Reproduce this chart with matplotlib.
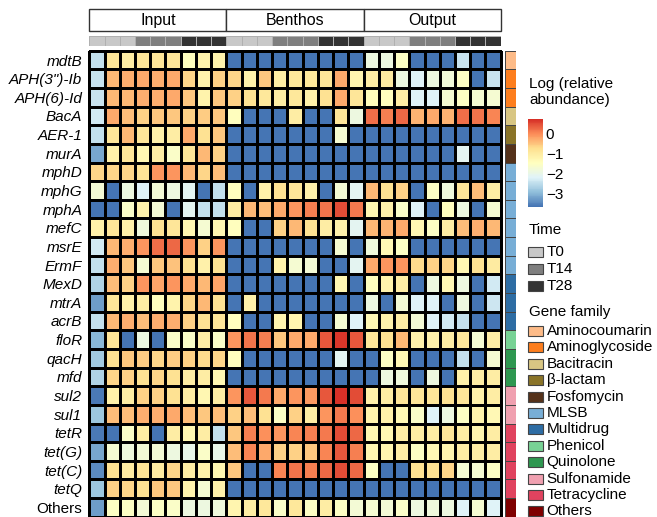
import numpy as np
import matplotlib.pyplot as plt
from matplotlib.colors import LinearSegmentedColormap, ListedColormap
from matplotlib.patches import Rectangle

plt.rcParams['font.family'] = ['Liberation Sans', 'DejaVu Sans']

B = -3.65  # menor valor (gene não detectado)

genes = ['mdtB', 'APH(3")-Ib', 'APH(6)-Id', 'BacA', 'AER-1', 'murA', 'mphD', 'mphG',
         'mphA', 'mefC', 'msrE', 'ErmF', 'MexD', 'mtrA', 'acrB', 'floR', 'qacH', 'mfd',
         'sul2', 'sul1', 'tetR', 'tet(G)', 'tet(C)', 'tetQ', 'Others']
familia_gene = ['Aminocoumarin', 'Aminoglycoside', 'Aminoglycoside', 'Bacitracin', 'β-lactam',
                'Fosfomycin', 'MLSB', 'MLSB', 'MLSB', 'MLSB', 'MLSB', 'MLSB',
                'Multidrug', 'Multidrug', 'Multidrug', 'Phenicol', 'Quinolone', 'Quinolone',
                'Sulfonamide', 'Sulfonamide', 'Tetracycline', 'Tetracycline', 'Tetracycline',
                'Tetracycline', 'Others']
grupos = ['Input', 'Benthos', 'Output']
tempos_nomes = ['T0', 'T14', 'T28']
tempos = ['T0', 'T0', 'T0', 'T14', 'T14', 'T14', 'T28', 'T28', 'T28'] * 3
cores_tempo = ['#c8c8c8', '#7f7f7f', '#333333']

familias = ['Aminocoumarin', 'Aminoglycoside', 'Bacitracin', 'β-lactam', 'Fosfomycin', 'MLSB',
            'Multidrug', 'Phenicol', 'Quinolone', 'Sulfonamide', 'Tetracycline', 'Others']
cores_familia = ['#fdbb88', '#fd7e1e', '#d8c683', '#8a7428', '#55321a', '#78aed6',
                 '#2e6da4', '#78d295', '#2e9750', '#f0a0b0', '#e0435f', '#7f0000']

# log da abundância relativa (linhas = genes, colunas = amostras)
input_log = [
    [-2.45, -0.87, -1.02, -0.87, -0.87, -0.87, -1.45, -1.16, -1.16],
    [-2.4, -0.35, -0.3, -0.25, -0.3, -0.25, -0.65, -1.16, -0.6],
    [-2.4, -0.35, -0.35, -0.3, -0.3, -0.25, -0.5, -1.16, -0.5],
    [-2.3, -0.25, -0.43, -0.6, -0.5, -0.5, -0.6, -0.55, -0.5],
    [-2.45, -0.87, -0.35, -0.87, -1.1, -1.02, -0.25, -0.78, -0.5],
    [-3.15, -1.1, -0.87, -1.25, -1.02, -1.55, -0.87, -0.35, -0.6],
    [-0.62, -0.65, -0.65, -0.8, -0.08, -0.08, -0.35, -0.65, -0.43],
    [-1.72, B, -1.85, -2.18, -1.72, -1.85, -2.07, B, -2.45],
    [B, B, -1.55, -1.16, -1.72, B, -2.07, -2.45, -2.45],
    [-1.12, -0.87, -1.12, -1.82, -0.75, -0.87, -1.27, -1.68, -1.27],
    [-2.3, -0.35, -0.3, -0.08, 0.24, 0.28, -0.08, -0.6, -0.05],
    [-2.45, -0.28, -0.5, -1.7, -0.5, -0.45, -0.75, -1.12, -0.75],
    [-2.62, -0.43, -0.6, -0.08, -0.2, -0.08, -0.25, -0.35, -0.2],
    [-3.25, -0.87, -1.12, -1.02, -1.45, -1.16, -0.65, -0.35, -0.75],
    [-2.45, -0.35, -0.28, -0.43, -0.28, -0.28, -0.6, -0.75, -0.87],
    [-2.98, -0.87, B, -1.85, B, -1.55, -1.55, -1.02, -1.55],
    [-2.75, -0.75, -0.5, -0.55, -0.65, -0.55, -0.6, -0.7, -0.65],
    [-2.62, -0.65, -0.6, -0.75, -0.65, -0.75, -1.02, -1.05, -1.27],
    [-3.6, -1.12, -1.02, -0.6, -0.6, -0.75, -1.02, -1.27, -1.02],
    [-2.8, -0.43, -0.43, -0.28, -0.28, -0.25, -0.43, -0.5, -0.43],
    [-3.6, B, -1.55, -1.02, B, -1.02, -1.27, -1.05, -2.45],
    [-3.15, -1.68, -1.82, -1.72, -1.72, -1.85, -2.02, -1.55, -2.02],
    [-3.4, -0.75, -0.98, -0.8, -0.98, -0.65, -1.02, -1.12, -1.27],
    [-2.8, -0.6, -0.65, -0.75, -0.5, -0.5, -1.16, -1.68, -1.12],
    [-3.25, -1.5, -1.5, -1.72, -1.5, -1.55, -1.85, -1.85, -1.82],
]
benthos_log = [
    [B, B, B, B, B, B, B, B, B],
    [-0.65, -1.1, -0.5, -1.02, -0.9, -0.9, -0.87, -0.25, -1.22],
    [-0.6, -0.75, -0.9, -1.02, -0.9, -1.1, -0.75, -0.25, -0.87],
    [-1.42, B, B, B, -1.02, B, B, -0.87, -1.85],
    [B, B, B, B, B, B, B, -1.7, B],
    [B, B, B, B, B, B, B, B, B],
    [B, B, B, B, B, B, B, B, B],
    [-1.45, B, -1.12, -0.75, -0.87, -1.12, B, -1.72, -2.07],
    [-0.98, -0.35, -0.43, -0.25, -0.08, 0.13, 0.2, 0.5, 0.17],
    [-1.45, B, B, -0.6, -0.35, -0.75, -1.02, -1.12, -2.07],
    [B, B, B, B, B, B, B, -1.68, B],
    [B, B, B, -1.16, -1.7, -1.72, B, B, -2.07],
    [B, B, B, B, B, B, B, -1.27, B],
    [B, -1.12, B, B, B, B, B, B, B],
    [-1.45, B, B, -1.22, -1.22, B, B, -1.7, -2.18],
    [-0.08, 0.2, 0.13, -0.5, -0.25, -0.25, 0.42, 0.68, 0.42],
    [-1.45, B, B, B, B, B, B, -2.07, B],
    [B, B, B, B, B, B, B, B, B],
    [-0.08, 0.42, 0.17, -0.25, -0.08, -0.1, 0.42, 0.75, 0.5],
    [-0.6, -0.43, -0.75, -1.5, -0.6, -1.02, -0.08, 0.17, 0.0],
    [-0.5, 0.13, 0.0, -0.05, 0.05, 0.13, 0.17, 0.53, 0.31],
    [-0.43, 0.05, -0.25, -0.6, -0.6, -0.5, 0.05, 0.42, 0.13],
    [-0.5, B, B, 0.05, 0.2, 0.13, 0.28, 0.53, 0.31],
    [B, B, B, B, B, B, B, B, B],
    [-1.22, -1.02, -0.9, -1.55, -0.9, -1.5, -1.05, -1.5, -1.72],
]
output_log = [
    [-1.85, -1.85, -1.5, B, B, B, -2.4, B, B],
    [-1.05, -1.0, -1.85, -2.18, -1.85, -1.8, -1.52, B, -2.4],
    [-1.4, -1.45, -1.05, -2.18, -2.18, -1.7, -1.52, -1.7, -1.68],
    [0.24, 0.13, 0.28, -0.33, -0.25, -0.33, 0.24, 0.2, 0.05],
    [B, B, B, B, B, B, B, B, B],
    [B, B, B, B, B, B, -2.07, B, B],
    [B, B, B, B, B, B, B, B, B],
    [-0.35, -0.75, -0.6, B, -1.52, -1.82, -0.87, -0.43, -1.02],
    [-1.27, -1.12, -1.55, -2.18, B, -1.45, -1.85, B, -1.68],
    [-0.35, -0.33, -0.25, -1.27, -1.5, -1.02, -0.43, -0.28, -0.35],
    [-1.82, -1.3, -1.52, B, B, B, B, B, B],
    [-0.25, -0.08, -0.05, -0.7, -0.6, -0.65, -1.27, -0.75, -0.98],
    [-1.42, -1.16, -1.05, B, -1.85, -1.3, -1.85, B, -2.3],
    [-1.85, B, -1.72, -2.18, -2.18, B, -1.85, B, -2.35],
    [-1.3, -1.16, -1.02, -1.72, -2.18, -2.3, -2.42, B, B],
    [-0.87, -0.75, -0.35, -1.12, -1.12, -1.02, -0.9, -1.7, -1.02],
    [B, -1.52, -1.3, B, B, B, -2.45, B, -1.68],
    [B, -1.85, -1.82, B, -1.85, B, -1.12, -1.02, -1.02],
    [-1.12, -1.02, -0.87, -0.87, -0.87, -0.75, -0.87, -1.12, -1.02],
    [-1.16, -1.12, -1.3, -1.55, -2.18, -1.85, -1.5, -1.16, -1.3],
    [-1.27, -1.27, -1.02, -1.02, -1.05, -0.87, -1.02, -1.22, -1.02],
    [-1.27, -1.22, -1.02, -1.5, -1.3, -1.22, -1.02, -1.05, -1.02],
    [-1.5, B, B, -0.75, -0.75, -0.65, -1.68, -1.68, -1.5],
    [B, B, B, B, B, B, B, B, B],
    [-1.68, -1.72, -1.55, -1.85, -1.82, -1.85, -2.18, -1.68, -2.18],
]

dados = np.hstack([np.array(input_log), np.array(benthos_log), np.array(output_log)])
n_lin, n_col = dados.shape

# paleta padrão do pheatmap (RdYlBu invertida, 7 cores)
cmap = LinearSegmentedColormap.from_list('pheat', ['#4575b4', '#91bfdb', '#e0f3f8', '#ffffbf',
                                                   '#fee090', '#fc8d59', '#d73027'], N=100)
vmin, vmax = -3.65, 0.75

W, H = 657, 517
fig = plt.figure(figsize=(W / 100, H / 100), dpi=100)


def eixo(x0, y0, x1, y1):
    return fig.add_axes([x0 / W, 1 - y1 / H, (x1 - x0) / W, (y1 - y0) / H])


# 1. Heatmap principal
ax = eixo(89.3, 50.7, 500.7, 516.7)
malha = ax.pcolormesh(dados, cmap=cmap, vmin=vmin, vmax=vmax, edgecolors='black', linewidth=0.8)
malha.set_clip_on(False)
ax.set_xlim(0, n_col)
ax.set_ylim(n_lin, 0)
ax.set_xticks([])
ax.set_yticks(np.arange(n_lin) + 0.5)
ax.set_yticklabels(genes, fontsize=11)
for lbl in ax.get_yticklabels():
    if lbl.get_text() != 'Others':
        lbl.set_fontstyle('italic')
ax.tick_params(length=0, pad=5)
for s in ax.spines.values():
    s.set_visible(False)

# 2. Cabeçalho dos grupos
ax_g = eixo(89.3, 9.3, 500.7, 31)
ax_g.set_xlim(0, n_col)
ax_g.set_ylim(0, 1)
for i, g in enumerate(grupos):
    ax_g.add_patch(Rectangle((i * 9, 0), 9, 1, facecolor='white', edgecolor='#333333',
                             linewidth=1, clip_on=False))
    ax_g.text(i * 9 + 4.5, 0.5, g, ha='center', va='center', fontsize=11.5)
ax_g.axis('off')

# 3. Barra de tempo
ax_t = eixo(89.3, 35.7, 500.7, 46)
cod_tempo = np.array([[tempos_nomes.index(t) for t in tempos]])
ax_t.pcolormesh(cod_tempo, cmap=ListedColormap(cores_tempo), vmin=-0.5, vmax=2.5,
                edgecolors='#b0b0b0', linewidth=0.5)
ax_t.axis('off')

# 4. Família dos genes
ax_f = eixo(504.7, 50.7, 515.7, 516.7)
cod_fam = np.array([[familias.index(f)] for f in familia_gene])
ax_f.pcolormesh(cod_fam, cmap=ListedColormap(cores_familia), vmin=-0.5, vmax=len(familias) - 0.5,
                edgecolors='#444444', linewidth=0.5)
ax_f.set_ylim(n_lin, 0)
ax_f.axis('off')

# 5. Barra de cores
cax = eixo(528, 119, 543, 207)
cb = fig.colorbar(malha, cax=cax, ticks=[0, -1, -2, -3])
cb.outline.set_visible(False)
cax.tick_params(length=0, labelsize=11, pad=2)
fig.text(529 / W, 1 - 92 / H, 'Log (relative\nabundance)', fontsize=11, va='center',
         linespacing=1.25)

# 6. Legendas
def legenda(titulo, y_tit, nomes, cores, y0, passo):
    fig.text(529 / W, 1 - y_tit / H, titulo, fontsize=11, va='center')
    for k, (n, c) in enumerate(zip(nomes, cores)):
        yc = y0 + k * passo
        fig.add_artist(Rectangle((528 / W, 1 - (yc + 5) / H), 15 / W, 10 / H,
                                 transform=fig.transFigure, facecolor=c,
                                 edgecolor='#444444', linewidth=0.8))
        fig.text(546.5 / W, 1 - yc / H, n, fontsize=11, va='center')


legenda('Time', 230, tempos_nomes, cores_tempo, 251.7, 17)
legenda('Gene family', 311.7, familias, cores_familia, 331, 16.4)

fig.savefig('out.png', dpi=100)
